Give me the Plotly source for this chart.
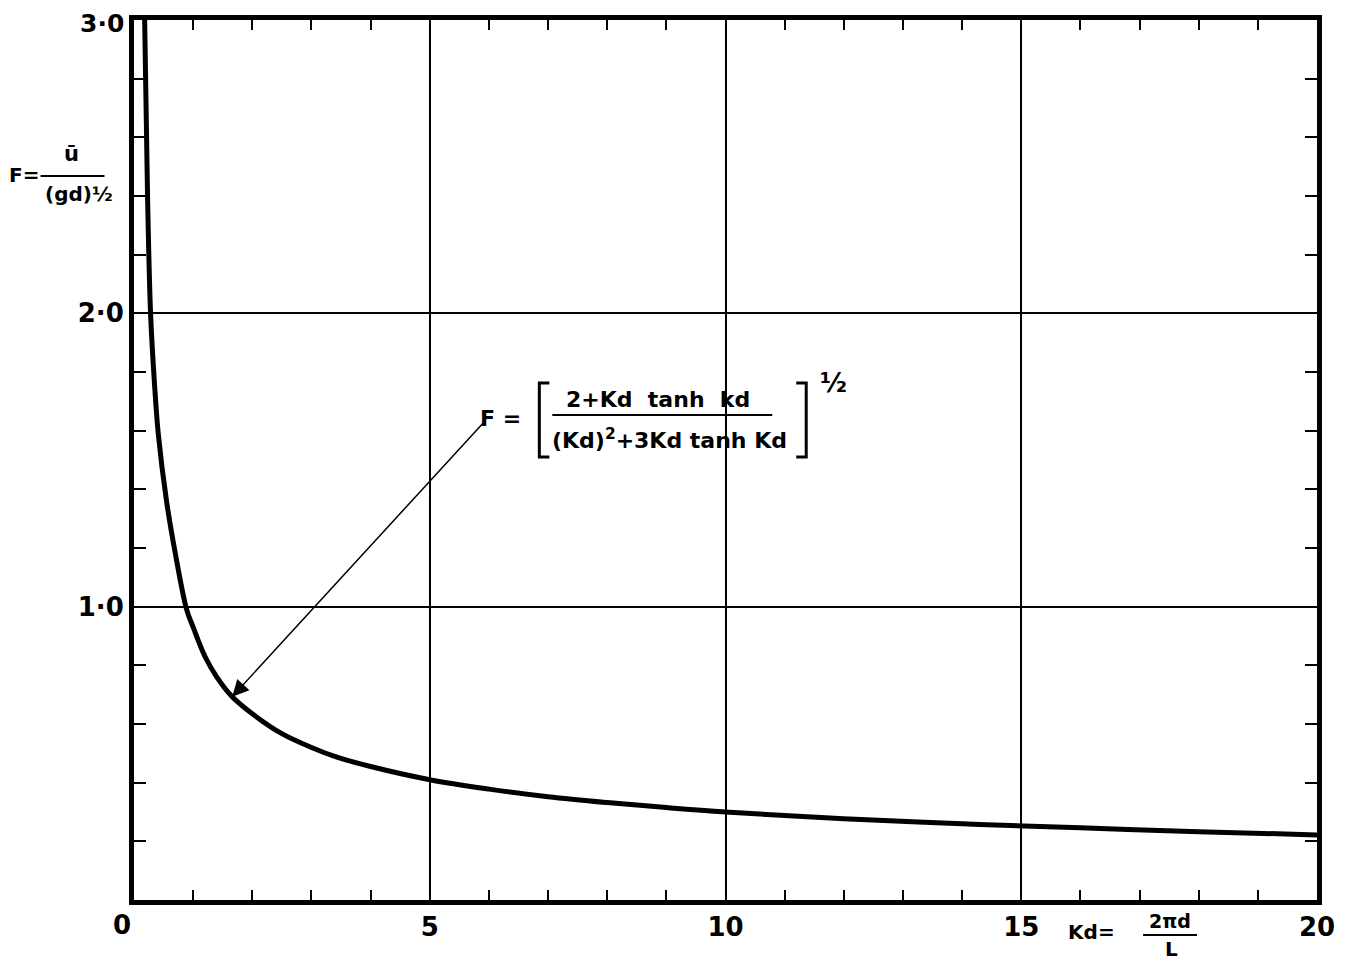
import plotly.graph_objects as go

# ---- data ----
kd = [0.18, 0.23, 0.28, 0.34, 0.41, 0.55, 0.70, 0.89, 1.0, 1.2, 1.4, 1.66, 2.0, 2.5,
      3.0, 3.43, 4.0, 5.0, 6.0, 7.0, 8.0, 9.0, 10.0, 12.0, 14.0, 16.0, 18.0, 20.0]
F = [3.0, 2.39, 2.0, 1.78, 1.59, 1.36, 1.18, 0.99, 0.93, 0.83, 0.76, 0.693, 0.635, 0.567,
     0.52, 0.487, 0.455, 0.41, 0.378, 0.352, 0.332, 0.315, 0.30, 0.277, 0.26, 0.246, 0.233, 0.222]

x_tickvals = list(range(0, 21))
x_ticktext = [str(v) if (v % 5 == 0 and v != 0) else "" for v in x_tickvals]
x_zero_label = "0"
y_tickvals = [round(0.2 * i, 1) for i in range(0, 16)]
y_labels = {1.0: "1·0", 2.0: "2·0"}
y_top_label = "3·0"
y_ticktext = [y_labels.get(v, "") for v in y_tickvals]
x_grid = [5, 10, 15]
y_grid = [1, 2]
arrow_point = (1.66, 0.693)

# ---- layout helpers (target pixel -> paper); page body adds an 8px offset ----
OFF = 8
W, H = 1351 - OFF, 962 - OFF
L, R, T, B = 133.5, 1317.0, 20.0, 900.0


def px(xp):
    return (xp - L) / (R - L)


def py(yp):
    return (B - yp) / (B - T)


FONT = "DejaVu Sans"
SP = "&nbsp;"


def f(size, weight="bold"):
    return dict(size=size, family=FONT, color="black", weight=weight)


fig = go.Figure()
fig.add_trace(go.Scatter(
    x=kd, y=F, mode="lines",
    line=dict(color="black", width=5, shape="spline", smoothing=1.0),
    hoverinfo="skip", showlegend=False))

fig.update_layout(
    width=W, height=H,
    margin=dict(l=L - OFF, r=(W + OFF) - R, t=T - OFF, b=(H + OFF) - B, pad=0,
                autoexpand=False),
    paper_bgcolor="white", plot_bgcolor="white",
    showlegend=False,
    font=dict(family=FONT, color="black"),
)
fig.update_xaxes(
    range=[0, 20], tickvals=x_tickvals, ticktext=x_ticktext, automargin=False,
    ticklabeloverflow="allow",
    ticks="inside", ticklen=10, tickwidth=2, tickcolor="black",
    showline=True, linewidth=5, linecolor="black", mirror="ticks",
    showgrid=False, zeroline=False,
    tickfont=f(26),
    minor=dict(tickvals=x_grid, showgrid=True, gridcolor="black", gridwidth=2, ticks=""),
)
fig.update_yaxes(
    range=[0, 3], tickvals=y_tickvals, ticktext=y_ticktext, automargin=False,
    ticklabeloverflow="allow",
    ticks="inside", ticklen=12, tickwidth=2, tickcolor="black",
    showline=True, linewidth=5, linecolor="black", mirror="ticks",
    showgrid=False, zeroline=False,
    tickfont=f(26),
    minor=dict(tickvals=y_grid, showgrid=True, gridcolor="black", gridwidth=2, ticks=""),
)

ann = []
shapes = []


def text(xp, yp, s, size, xanchor="center"):
    ann.append(dict(xref="paper", yref="paper", x=px(xp), y=py(yp), text=s,
                    showarrow=False, font=f(size), xanchor=xanchor, yanchor="middle"))


def hline(x0, x1, yp, w=2):
    shapes.append(dict(type="line", xref="paper", yref="paper", x0=px(x0), x1=px(x1),
                       y0=py(yp), y1=py(yp), line=dict(color="black", width=w)))


# "0" label at the origin (sits left of the axis in the reference)
text(121, 925, x_zero_label, 26)
# top y label (placed as text so it stays inside the page)
text(125, 23, y_top_label, 25, xanchor="right")

# y-axis title: F = u-bar / (gd)^1/2
text(23, 175, "F=", 20)
text(71, 154, "ū", 21)
hline(40, 104, 176)
text(78, 194, "(gd)½", 20)

# x-axis title: Kd = 2πd / L
text(1083, 932, "Kd", 20)
text(1106, 932, "=", 20)
text(1170, 921, "2πd", 19)
hline(1143, 1197, 935)
text(1171, 949, "L", 20)

# formula annotation
text(500, 418, "F" + SP + "=", 22)
text(658, 400, "2+Kd" + SP * 2 + "tanh" + SP * 2 + "kd", 22)
hline(552, 772, 415)
text(669, 439, "(Kd)<sup>2</sup>+3Kd" + SP + "tanh" + SP + "Kd", 22)
shapes.append(dict(type="path", xref="paper", yref="paper",
                   path=f"M {px(549)} {py(383)} L {px(539)} {py(383)} L {px(539)} {py(457)} L {px(549)} {py(457)}",
                   line=dict(color="black", width=3)))
shapes.append(dict(type="path", xref="paper", yref="paper",
                   path=f"M {px(796)} {py(383)} L {px(806)} {py(383)} L {px(806)} {py(457)} L {px(796)} {py(457)}",
                   line=dict(color="black", width=3)))
text(833, 383, "½", 26)

# arrow from the formula to the curve
ann.append(dict(xref="x", yref="y", x=arrow_point[0], y=arrow_point[1], text="",
                showarrow=True, axref="pixel", ayref="pixel", ax=254, ay=-277,
                arrowhead=2, arrowsize=2.2, arrowwidth=1.5, arrowcolor="black",
                standoff=0))

fig.update_layout(annotations=ann, shapes=shapes)
fig.write_html("out.html")
